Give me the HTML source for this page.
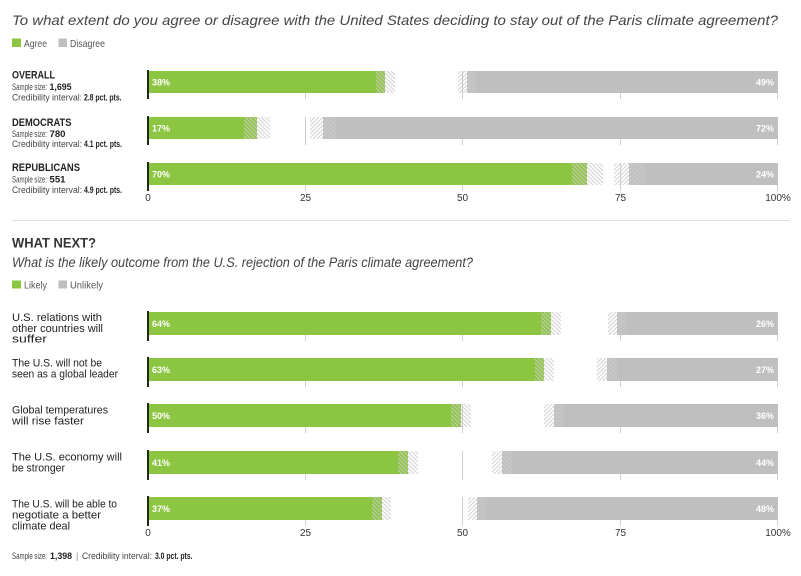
<!DOCTYPE html>
<html><head><meta charset="utf-8"><style>
body{margin:0;background:#fff}
svg{display:block}
text{font-family:"Liberation Sans",sans-serif}
</style></head><body>
<svg width="801" height="576" viewBox="0 0 801 576" xmlns="http://www.w3.org/2000/svg">
<defs>
<pattern id="hb" patternUnits="userSpaceOnUse" width="4" height="4"><path d="M-1,-1L5,5M-1,3L1,5M3,-1L5,1" stroke="rgba(205,205,205,0.85)" stroke-width="1.1"/></pattern>
<pattern id="hf" patternUnits="userSpaceOnUse" width="4" height="4"><path d="M-1,5L5,-1M-1,1L1,-1M3,5L5,3" stroke="rgba(205,205,205,0.85)" stroke-width="1.1"/></pattern>
</defs>
<rect width="801" height="576" fill="#fff"/>

<!-- Title -->
<text x="12" y="25" font-size="14" font-style="italic" fill="#444" textLength="766" lengthAdjust="spacingAndGlyphs">To what extent do you agree or disagree with the United States deciding to stay out of the Paris climate agreement?</text>
<rect x="12" y="38.5" width="9" height="8.5" fill="#8cc541"/>
<text x="24" y="47" font-size="10.5" fill="#555" textLength="23" lengthAdjust="spacingAndGlyphs">Agree</text>
<rect x="58.5" y="38.5" width="8.5" height="8.5" fill="#bfbfbf"/>
<text x="70" y="47" font-size="10.5" fill="#555" textLength="35" lengthAdjust="spacingAndGlyphs">Disagree</text>

<!-- Group labels -->
<g fill="#222">
<text x="12" y="78.5" font-size="11" font-weight="bold" textLength="43" lengthAdjust="spacingAndGlyphs">OVERALL</text>
<text x="12" y="90" font-size="9" fill="#444" textLength="35" lengthAdjust="spacingAndGlyphs">Sample size:</text>
<text x="49.5" y="90" font-size="9" font-weight="bold" textLength="22" lengthAdjust="spacingAndGlyphs">1,695</text>
<text x="12" y="100.5" font-size="9" fill="#444" textLength="70" lengthAdjust="spacingAndGlyphs">Credibility interval:</text>
<text x="84" y="100.5" font-size="9" font-weight="bold" textLength="37.5" lengthAdjust="spacingAndGlyphs">2.8 pct. pts.</text>

<text x="12" y="126" font-size="11" font-weight="bold" textLength="59.5" lengthAdjust="spacingAndGlyphs">DEMOCRATS</text>
<text x="12" y="137" font-size="9" fill="#444" textLength="35" lengthAdjust="spacingAndGlyphs">Sample size:</text>
<text x="49.5" y="137" font-size="9" font-weight="bold" textLength="16" lengthAdjust="spacingAndGlyphs">780</text>
<text x="12" y="147" font-size="9" fill="#444" textLength="70" lengthAdjust="spacingAndGlyphs">Credibility interval:</text>
<text x="84" y="147" font-size="9" font-weight="bold" textLength="38" lengthAdjust="spacingAndGlyphs">4.1 pct. pts.</text>

<text x="12" y="171" font-size="11" font-weight="bold" textLength="68" lengthAdjust="spacingAndGlyphs">REPUBLICANS</text>
<text x="12" y="182.5" font-size="9" fill="#444" textLength="35" lengthAdjust="spacingAndGlyphs">Sample size:</text>
<text x="49.5" y="182.5" font-size="9" font-weight="bold" textLength="16" lengthAdjust="spacingAndGlyphs">551</text>
<text x="12" y="193" font-size="9" fill="#444" textLength="70" lengthAdjust="spacingAndGlyphs">Credibility interval:</text>
<text x="84" y="193" font-size="9" font-weight="bold" textLength="38" lengthAdjust="spacingAndGlyphs">4.9 pct. pts.</text>
</g>

<!-- Top section gridlines -->
<g stroke="#cfcfcf" stroke-width="1">
<line x1="305.5" y1="71" x2="305.5" y2="99"/><line x1="462.5" y1="71" x2="462.5" y2="99"/><line x1="620.5" y1="71" x2="620.5" y2="99"/><line x1="777.5" y1="93" x2="777.5" y2="99"/>
<line x1="305.5" y1="117" x2="305.5" y2="145"/><line x1="462.5" y1="117" x2="462.5" y2="145"/><line x1="620.5" y1="117" x2="620.5" y2="145"/><line x1="777.5" y1="139" x2="777.5" y2="145"/>
<line x1="305.5" y1="163" x2="305.5" y2="191"/><line x1="462.5" y1="163" x2="462.5" y2="191"/><line x1="620.5" y1="163" x2="620.5" y2="191"/><line x1="777.5" y1="185" x2="777.5" y2="191"/>
</g>

<!-- Top bars -->
<g>
<rect x="149" y="71" width="236" height="22" fill="#8cc541"/>
<rect x="467" y="71" width="311" height="22" fill="#bfbfbf"/>
<rect x="376" y="71" width="19" height="22" fill="url(#hb)"/>
<rect x="458" y="71" width="18" height="22" fill="url(#hf)"/>

<rect x="149" y="117" width="108" height="22" fill="#8cc541"/>
<rect x="323" y="117" width="455" height="22" fill="#bfbfbf"/>
<rect x="244" y="117" width="26" height="22" fill="url(#hb)"/>
<rect x="310" y="117" width="26" height="22" fill="url(#hf)"/>

<rect x="149" y="163" width="438" height="22" fill="#8cc541"/>
<rect x="629" y="163" width="149" height="22" fill="#bfbfbf"/>
<rect x="572" y="163" width="31" height="22" fill="url(#hb)"/>
<rect x="614" y="163" width="31" height="22" fill="url(#hf)"/>
</g>
<g fill="#1f2a10">
<rect x="147" y="70" width="2" height="29"/>
<rect x="147" y="116" width="2" height="29"/>
<rect x="147" y="162" width="2" height="29"/>
</g>
<g font-size="9" font-weight="bold" fill="#fff">
<text x="152" y="85.3">38%</text><text x="774" y="85.3" text-anchor="end">49%</text>
<text x="152" y="131.3">17%</text><text x="774" y="131.3" text-anchor="end">72%</text>
<text x="152" y="177.3">70%</text><text x="774" y="177.3" text-anchor="end">24%</text>
</g>
<g font-size="10" fill="#333" text-anchor="middle">
<text x="148" y="201">0</text><text x="305.5" y="201">25</text><text x="462.5" y="201">50</text><text x="620.5" y="201">75</text><text x="778" y="201">100%</text>
</g>

<line x1="12" y1="220.5" x2="790" y2="220.5" stroke="#e0e0e0" stroke-width="1"/>

<!-- What next -->
<text x="12" y="247.3" font-size="14" font-weight="bold" fill="#333" textLength="84" lengthAdjust="spacingAndGlyphs">WHAT NEXT?</text>
<text x="12" y="267" font-size="14" font-style="italic" fill="#444" textLength="461" lengthAdjust="spacingAndGlyphs">What is the likely outcome from the U.S. rejection of the Paris climate agreement?</text>
<rect x="12" y="280.5" width="9" height="8" fill="#8cc541"/>
<text x="24" y="288.3" font-size="10.5" fill="#555" textLength="23" lengthAdjust="spacingAndGlyphs">Likely</text>
<rect x="58.5" y="280.5" width="8.5" height="8" fill="#bfbfbf"/>
<text x="70" y="288.3" font-size="10.5" fill="#555" textLength="33" lengthAdjust="spacingAndGlyphs">Unlikely</text>

<!-- Bottom labels -->
<g font-size="11" fill="#222">
<text x="12" y="321" textLength="90" lengthAdjust="spacingAndGlyphs">U.S. relations with</text>
<text x="12" y="332" textLength="91" lengthAdjust="spacingAndGlyphs">other countries will</text>
<text x="12" y="342.5" textLength="35" lengthAdjust="spacingAndGlyphs">suffer</text>
<text x="12" y="366.7" textLength="90" lengthAdjust="spacingAndGlyphs">The U.S. will not be</text>
<text x="12" y="377.7" textLength="106" lengthAdjust="spacingAndGlyphs">seen as a global leader</text>
<text x="12" y="413.3" textLength="96" lengthAdjust="spacingAndGlyphs">Global temperatures</text>
<text x="12" y="424.3" textLength="72" lengthAdjust="spacingAndGlyphs">will rise faster</text>
<text x="12" y="460.7" textLength="110" lengthAdjust="spacingAndGlyphs">The U.S. economy will</text>
<text x="12" y="471.5" textLength="53" lengthAdjust="spacingAndGlyphs">be stronger</text>
<text x="12" y="507.3" textLength="105" lengthAdjust="spacingAndGlyphs">The U.S. will be able to</text>
<text x="12" y="518.3" textLength="89" lengthAdjust="spacingAndGlyphs">negotiate a better</text>
<text x="12" y="529.3" textLength="58" lengthAdjust="spacingAndGlyphs">climate deal</text>
</g>

<!-- Bottom gridlines -->
<g stroke="#cfcfcf" stroke-width="1">
<line x1="305.5" y1="312" x2="305.5" y2="341"/><line x1="462.5" y1="312" x2="462.5" y2="341"/><line x1="620.5" y1="312" x2="620.5" y2="341"/><line x1="777.5" y1="335" x2="777.5" y2="341"/>
<line x1="305.5" y1="358" x2="305.5" y2="387"/><line x1="462.5" y1="358" x2="462.5" y2="387"/><line x1="620.5" y1="358" x2="620.5" y2="387"/><line x1="777.5" y1="381" x2="777.5" y2="387"/>
<line x1="305.5" y1="404" x2="305.5" y2="433"/><line x1="462.5" y1="404" x2="462.5" y2="433"/><line x1="620.5" y1="404" x2="620.5" y2="433"/><line x1="777.5" y1="427" x2="777.5" y2="433"/>
<line x1="305.5" y1="451" x2="305.5" y2="480"/><line x1="462.5" y1="451" x2="462.5" y2="480"/><line x1="620.5" y1="451" x2="620.5" y2="480"/><line x1="777.5" y1="474" x2="777.5" y2="480"/>
<line x1="305.5" y1="497" x2="305.5" y2="526"/><line x1="462.5" y1="497" x2="462.5" y2="526"/><line x1="620.5" y1="497" x2="620.5" y2="526"/><line x1="777.5" y1="520" x2="777.5" y2="526"/>
</g>

<!-- Bottom bars -->
<g>
<rect x="149" y="312" width="402" height="23" fill="#8cc541"/>
<rect x="617" y="312" width="161" height="23" fill="#bfbfbf"/>
<rect x="541" y="312" width="20" height="23" fill="url(#hb)"/>
<rect x="608" y="312" width="19" height="23" fill="url(#hf)"/>

<rect x="149" y="358" width="395" height="23" fill="#8cc541"/>
<rect x="607" y="358" width="171" height="23" fill="#bfbfbf"/>
<rect x="535" y="358" width="19" height="23" fill="url(#hb)"/>
<rect x="597" y="358" width="20" height="23" fill="url(#hf)"/>

<rect x="149" y="404" width="312" height="23" fill="#8cc541"/>
<rect x="554" y="404" width="224" height="23" fill="#bfbfbf"/>
<rect x="451" y="404" width="20" height="23" fill="url(#hb)"/>
<rect x="544" y="404" width="20" height="23" fill="url(#hf)"/>

<rect x="149" y="451" width="259" height="23" fill="#8cc541"/>
<rect x="502" y="451" width="276" height="23" fill="#bfbfbf"/>
<rect x="398" y="451" width="20" height="23" fill="url(#hb)"/>
<rect x="492" y="451" width="20" height="23" fill="url(#hf)"/>

<rect x="149" y="497" width="233" height="23" fill="#8cc541"/>
<rect x="477" y="497" width="301" height="23" fill="#bfbfbf"/>
<rect x="372" y="497" width="19" height="23" fill="url(#hb)"/>
<rect x="468" y="497" width="19" height="23" fill="url(#hf)"/>
</g>
<g fill="#1f2a10">
<rect x="147" y="311" width="2" height="30"/>
<rect x="147" y="357" width="2" height="30"/>
<rect x="147" y="403" width="2" height="30"/>
<rect x="147" y="450" width="2" height="30"/>
<rect x="147" y="496" width="2" height="30"/>
</g>
<g font-size="9" font-weight="bold" fill="#fff">
<text x="152" y="326.8">64%</text><text x="774" y="326.8" text-anchor="end">26%</text>
<text x="152" y="372.8">63%</text><text x="774" y="372.8" text-anchor="end">27%</text>
<text x="152" y="418.8">50%</text><text x="774" y="418.8" text-anchor="end">36%</text>
<text x="152" y="465.8">41%</text><text x="774" y="465.8" text-anchor="end">44%</text>
<text x="152" y="511.8">37%</text><text x="774" y="511.8" text-anchor="end">48%</text>
</g>
<g font-size="10" fill="#333" text-anchor="middle">
<text x="148" y="536">0</text><text x="305.5" y="536">25</text><text x="462.5" y="536">50</text><text x="620.5" y="536">75</text><text x="778" y="536">100%</text>
</g>

<!-- Footer -->
<g font-size="9">
<text x="12" y="559" fill="#444" textLength="35" lengthAdjust="spacingAndGlyphs">Sample size:</text>
<text x="50" y="559" fill="#222" font-weight="bold" textLength="22" lengthAdjust="spacingAndGlyphs">1,398</text>
<text x="76" y="559" fill="#888">|</text>
<text x="82" y="559" fill="#444" textLength="70" lengthAdjust="spacingAndGlyphs">Credibility interval:</text>
<text x="155" y="559" fill="#222" font-weight="bold" textLength="37.5" lengthAdjust="spacingAndGlyphs">3.0 pct. pts.</text>
</g>
</svg>
</body></html>
